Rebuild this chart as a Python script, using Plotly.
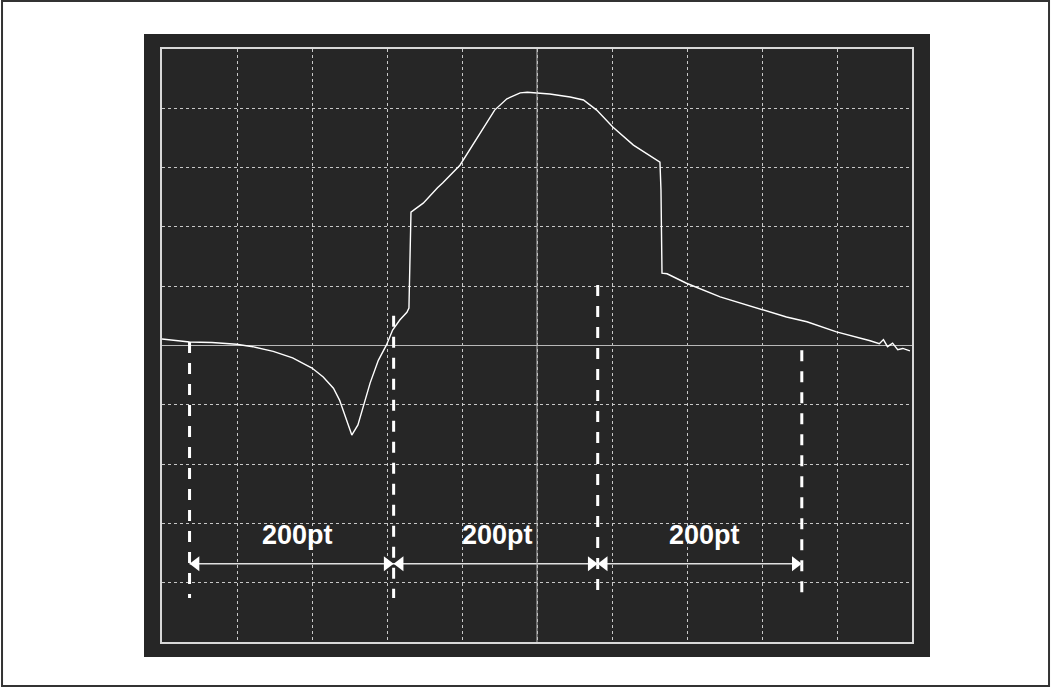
import plotly.graph_objects as go

# Waveform (x in sample points, y in vertical divisions)
wave_x = [0, 27, 49, 73, 89, 109, 128, 147, 158, 168, 174, 181, 186, 192, 197,
          204, 212, 220, 226, 233, 240, 242, 243, 244, 248, 256, 270, 275, 292,
          312, 326, 338, 351, 358, 380, 400, 413, 426, 442, 462, 481, 488, 489,
          490, 495, 514, 547, 586, 612, 632, 661, 694, 703, 707, 711, 716, 721,
          726, 733]
wave_y = [0.11, 0.06, 0.05, 0.02, -0.02, -0.10, -0.21, -0.38, -0.53, -0.72,
          -0.92, -1.26, -1.51, -1.34, -1.04, -0.63, -0.25, 0.01, 0.26, 0.43,
          0.56, 0.63, 1.44, 2.25, 2.30, 2.40, 2.66, 2.74, 3.04, 3.58, 3.97,
          4.16, 4.26, 4.27, 4.24, 4.19, 4.14, 3.97, 3.68, 3.38, 3.16, 3.09,
          2.62, 1.22, 1.21, 1.05, 0.82, 0.62, 0.48, 0.40, 0.23, 0.08, 0.03,
          0.10, -0.02, 0.04, -0.07, -0.05, -0.09]

# 200-point measurement markers
marker_x = [27, 227, 427, 627]
marker_top = [0.06, 0.50, 1.02, -0.08]
marker_bottom = -4.26
arrow_y = -3.68
span_labels = ["200pt", "200pt", "200pt"]
label_x = [133, 329, 532]
label_y = -3.2

X_RANGE = [0, 735]
Y_RANGE = [-5, 5]
SCREEN = "#262626"

fig = go.Figure()

# dashed marker lines
for mx, top in zip(marker_x, marker_top):
    fig.add_trace(go.Scatter(
        x=[mx, mx], y=[top, marker_bottom], mode="lines",
        line=dict(color="white", width=3, dash="11px,10px"),
        hoverinfo="skip", showlegend=False
    ))

# horizontal measurement line
fig.add_trace(go.Scatter(
    x=[marker_x[0], marker_x[-1]], y=[arrow_y, arrow_y], mode="lines",
    line=dict(color="#e0e0e0", width=1.5),
    hoverinfo="skip", showlegend=False
))

# arrowheads pointing at each marker
off = 6.4
left_x = [m + off for m in marker_x[:-1]]
right_x = [m - off for m in marker_x[1:]]
fig.add_trace(go.Scatter(
    x=left_x, y=[arrow_y] * len(left_x), mode="markers",
    marker=dict(symbol="triangle-left", size=13, color="white"),
    hoverinfo="skip", showlegend=False
))
fig.add_trace(go.Scatter(
    x=right_x, y=[arrow_y] * len(right_x), mode="markers",
    marker=dict(symbol="triangle-right", size=13, color="white"),
    hoverinfo="skip", showlegend=False
))

# waveform
fig.add_trace(go.Scatter(
    x=wave_x, y=wave_y, mode="lines",
    line=dict(color="white", width=1.4),
    showlegend=False
))

# trigger marker in the top-left corner
fig.add_trace(go.Scatter(
    x=[-4], y=[4.93], mode="markers", cliponaxis=False,
    marker=dict(symbol="triangle-right-open", size=9, color="white",
                line=dict(width=1.5, color="white")),
    hoverinfo="skip", showlegend=False
))

for lx, txt in zip(label_x, span_labels):
    fig.add_annotation(
        x=lx, y=label_y, text="<b>" + txt + "</b>", showarrow=False,
        font=dict(family="Liberation Sans, Arial", size=27, color="white")
    )

# centre graticule line
fig.add_vline(x=sum(X_RANGE) / 2, line=dict(color="#b8b8b8", width=1))

# dark screen behind the graticule and the outer frame
fig.add_shape(type="rect", xref="paper", yref="paper",
              x0=-0.024, x1=1.024, y0=-0.0253, y1=1.0253,
              fillcolor=SCREEN, line=dict(width=0), layer="below")
fig.add_shape(type="rect", xref="paper", yref="paper",
              x0=-0.2133, x1=1.1827, y0=-0.0742, y1=1.0809,
              line=dict(color="#333333", width=2), layer="below")

axis_style = dict(
    showticklabels=False, ticks="", showline=True, mirror=True,
    linecolor="#d8d8d8", linewidth=2,
    showgrid=True, gridcolor="#c8c8c8", gridwidth=1, griddash="dot",
    fixedrange=True
)

fig.update_xaxes(range=X_RANGE, tick0=0, dtick=73.5, zeroline=False, **axis_style)
fig.update_yaxes(range=Y_RANGE, tick0=0, dtick=1, zeroline=True,
                 zerolinecolor="#b8b8b8", zerolinewidth=1, **axis_style)

fig.update_layout(
    width=1051, height=688,
    margin=dict(l=162, r=139, t=49, b=46),
    paper_bgcolor="white",
    plot_bgcolor=SCREEN,
    showlegend=False
)

fig.write_html("out.html", config={"displayModeBar": False},
               post_script="document.body.style.margin='0';")
